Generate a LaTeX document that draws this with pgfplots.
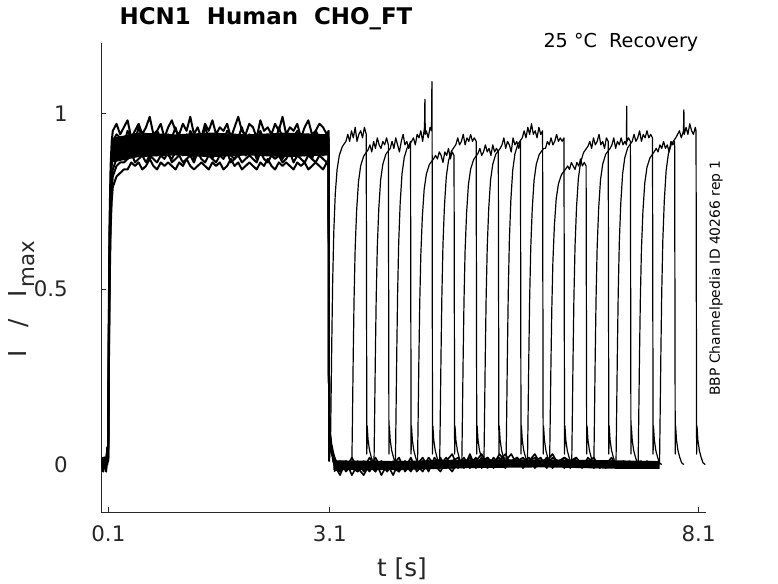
\documentclass[border=0pt]{standalone}
\usepackage{pgfplots}
\pgfplotsset{compat=1.18}
\usepackage{pgfplotstable}
\usepackage{fontspec}
\setmainfont{DejaVu Sans}
\definecolor{axgray}{HTML}{262626}
\pgfplotsset{
  band/.style={black, solid, mark=none, line join=round, line width=1.5pt},
  base/.style={black, solid, mark=none, line join=round, line width=1.2pt},
  sweep/.style={black, solid, mark=none, line join=round, line width=0.9pt},
  dense/.style={fill=black, draw=none, mark=none},
}

\pgfplotstableread{
t a b c d e f
0.01 0.01 -0.01 0.00 0.02 -0.01 0.01
0.03 -0.01 0.01 0.02 -0.01 0.00 -0.02
0.05 0.02 0.00 -0.01 0.01 0.02 0.00
0.07 -0.01 0.02 0.01 -0.02 0.00 0.01
0.085 0.01 0.04 0.00 0.05 0.01 0.02
0.097 0.02 0.02 0.02 0.02 0.01 0.01
0.105 0.40 0.35 0.30 0.28 0.25 0.22
0.115 0.68 0.62 0.58 0.55 0.52 0.48
0.13 0.85 0.80 0.76 0.73 0.70 0.67
0.145 0.92 0.88 0.85 0.81 0.78 0.75
0.16 0.95 0.92 0.90 0.84 0.82 0.79
0.21 0.97 0.94 0.92 0.87 0.85 0.82
0.26 0.94 0.93 0.91 0.88 0.86 0.83
0.31 0.96 0.91 0.89 0.88 0.86 0.84
0.36 0.98 0.95 0.93 0.87 0.87 0.84
0.41 0.93 0.93 0.91 0.90 0.89 0.86
0.46 0.95 0.92 0.90 0.89 0.86 0.85
0.51 0.97 0.96 0.92 0.88 0.87 0.86
0.56 0.94 0.93 0.94 0.91 0.88 0.84
0.61 0.96 0.91 0.90 0.89 0.86 0.85
0.66 0.99 0.94 0.91 0.87 0.88 0.87
0.71 0.94 0.92 0.89 0.90 0.87 0.85
0.76 0.95 0.95 0.93 0.88 0.86 0.84
0.81 0.97 0.93 0.92 0.89 0.88 0.86
0.86 0.93 0.90 0.90 0.92 0.87 0.85
0.91 0.96 0.94 0.91 0.88 0.89 0.86
0.96 0.98 0.93 0.93 0.87 0.86 0.85
1.01 0.95 0.96 0.89 0.89 0.87 0.84
1.06 0.94 0.92 0.92 0.90 0.88 0.86
1.11 0.97 0.93 0.91 0.88 0.86 0.85
1.16 0.95 0.91 0.94 0.89 0.87 0.87
1.21 0.99 0.95 0.90 0.91 0.88 0.85
1.26 0.94 0.93 0.91 0.87 0.86 0.84
1.31 0.96 0.94 0.92 0.89 0.89 0.85
1.36 0.93 0.92 0.89 0.88 0.87 0.86
1.41 0.97 0.96 0.93 0.90 0.86 0.85
1.46 0.95 0.93 0.91 0.89 0.88 0.84
1.51 0.98 0.91 0.90 0.87 0.87 0.86
1.56 0.94 0.94 0.92 0.91 0.86 0.85
1.61 0.96 0.93 0.91 0.88 0.88 0.86
1.66 0.95 0.92 0.93 0.89 0.87 0.84
1.71 0.97 0.95 0.89 0.90 0.89 0.85
1.76 0.93 0.94 0.91 0.88 0.86 0.87
1.81 0.96 0.91 0.92 0.87 0.87 0.85
1.86 0.99 0.93 0.90 0.89 0.88 0.86
1.91 0.95 0.96 0.93 0.91 0.86 0.84
1.96 0.94 0.92 0.91 0.88 0.87 0.85
2.01 0.97 0.94 0.89 0.89 0.88 0.86
2.06 0.96 0.93 0.92 0.90 0.87 0.85
2.11 0.93 0.91 0.94 0.87 0.86 0.84
2.16 0.98 0.95 0.90 0.89 0.89 0.86
2.21 0.95 0.92 0.91 0.88 0.87 0.85
2.26 0.96 0.93 0.92 0.91 0.86 0.87
2.31 0.94 0.94 0.90 0.89 0.88 0.85
2.36 0.97 0.91 0.93 0.88 0.87 0.84
2.41 0.95 0.96 0.91 0.90 0.88 0.86
2.46 0.99 0.93 0.89 0.87 0.86 0.85
2.51 0.94 0.92 0.92 0.89 0.87 0.86
2.56 0.96 0.94 0.91 0.88 0.89 0.85
2.61 0.95 0.93 0.93 0.90 0.86 0.84
2.66 0.97 0.95 0.90 0.89 0.88 0.86
2.71 0.93 0.91 0.92 0.91 0.87 0.85
2.76 0.96 0.93 0.91 0.88 0.86 0.86
2.81 0.98 0.94 0.89 0.89 0.88 0.84
2.86 0.94 0.92 0.93 0.87 0.87 0.85
2.91 0.95 0.95 0.90 0.90 0.86 0.86
2.96 0.97 0.93 0.92 0.89 0.88 0.85
3.01 0.96 0.92 0.91 0.88 0.87 0.84
3.06 0.94 0.94 0.90 0.90 0.86 0.86
3.085 0.95 0.93 0.91 0.89 0.87 0.85
3.092 0.02 0.03 0.02 0.01 0.02 0.03
3.098 0.10 0.09 0.08 0.09 0.10 0.08
3.12 0.05 0.05 0.04 0.06 0.05 0.04
3.15 0.02 0.01 0.02 0.03 0.01 0.02
3.18 0.00 -0.01 0.00 0.01 -0.01 0.00
3.22 -0.01 -0.02 -0.01 0.00 -0.02 -0.01
}\phaseone

\pgfplotstableread{
t p q r s u
3.16 0.01 -0.01 0.02 -0.02 0.00
3.24 -0.02 0.01 -0.01 0.00 -0.03
3.32 0.00 -0.02 0.01 -0.01 0.01
3.40 -0.01 0.00 -0.03 0.02 -0.01
3.48 0.01 -0.02 0.00 -0.01 -0.02
3.56 -0.02 0.01 -0.01 -0.03 0.00
3.64 0.00 -0.01 0.02 0.00 -0.02
3.72 -0.02 0.02 -0.01 -0.02 0.01
3.80 0.01 -0.01 0.00 0.01 -0.03
3.88 -0.01 0.00 -0.02 -0.01 0.00
3.96 0.00 -0.03 0.01 0.00 -0.01
4.04 -0.02 0.01 -0.01 0.02 -0.02
4.12 0.01 -0.01 0.00 -0.02 0.01
4.20 -0.01 0.02 -0.02 0.00 -0.01
4.28 0.00 -0.02 0.01 -0.01 0.00
4.36 0.02 0.00 -0.01 0.01 -0.02
4.44 -0.01 0.01 0.02 -0.02 0.01
4.52 0.01 -0.01 0.00 0.02 -0.01
4.60 0.00 0.02 -0.02 0.00 0.01
4.68 0.02 -0.01 0.01 -0.01 0.00
4.76 -0.01 0.01 0.03 0.01 -0.02
4.84 0.01 0.00 -0.01 0.02 0.01
4.92 0.00 0.02 0.01 -0.01 0.00
5.00 0.02 -0.01 0.00 0.03 0.01
5.08 0.00 0.01 0.02 -0.01 0.00
5.16 0.01 0.03 -0.01 0.01 0.02
5.24 -0.01 0.00 0.02 0.02 0.00
5.32 0.02 0.01 0.00 -0.01 0.01
5.40 0.00 0.02 0.03 0.01 0.00
5.48 0.01 -0.01 0.01 0.03 0.02
5.56 0.03 0.01 0.00 0.00 0.01
5.64 0.00 0.02 0.02 0.01 -0.01
5.72 0.01 0.00 -0.01 0.02 0.01
5.80 0.02 0.01 0.01 0.00 0.00
5.88 -0.01 0.03 0.02 0.01 0.01
5.96 0.01 0.00 0.00 0.02 0.00
6.04 0.00 0.02 0.01 -0.01 0.01
6.12 0.02 -0.01 0.03 0.01 0.00
6.20 0.01 0.01 0.00 0.00 0.01
6.28 -0.01 0.02 0.01 0.02 0.00
6.36 0.01 0.00 -0.01 0.01 0.01
6.44 0.02 0.01 0.02 0.00 0.00
6.52 0.00 -0.01 0.00 0.01 0.01
6.60 0.01 0.02 0.01 -0.01 0.00
6.68 -0.01 0.00 0.02 0.00 0.01
6.76 0.01 0.01 -0.01 0.01 0.00
6.84 0.00 -0.01 0.00 0.00 0.01
6.92 0.02 0.01 0.01 0.01 0.00
7.00 -0.01 0.00 0.00 0.00 0.00
7.08 0.01 -0.01 0.01 0.00 0.00
7.16 -0.01 0.01 0.00 0.00 0.00
7.24 0.00 -0.01 0.00 0.00 0.00
7.32 0.01 0.00 0.00 0.00 0.00
7.40 -0.01 0.01 0.00 0.00 0.00
7.48 0.00 0.00 0.00 0.00 0.00
7.56 0.01 0.00 0.00 0.00 0.00
}\basetab

\begin{document}
\begin{tikzpicture}
\useasboundingbox (0,0) rectangle (583.5pt,437.25pt);
\begin{axis}[
  at={(75.75pt,53.25pt)}, anchor=south west,
  width=453.75pt, height=351.75pt, scale only axis,
  xmin=0, xmax=8.2, ymin=-0.135, ymax=1.2,
  axis x line=bottom, axis y line=left,
  axis line style={-, draw=axgray, line width=0.5pt},
  xtick={0.1,3.1,8.1}, xticklabels={0.1,3.1,8.1},
  ytick={0,0.5,1}, yticklabels={0,0.5,1},
  tick align=inside, major tick length=3.75pt,
  tick style={draw=axgray, line width=0.5pt},
  ticklabel style={font=\fontsize{16}{19}\selectfont, text=axgray, inner sep=0pt},
  xticklabel style={anchor=north, yshift=-9.75pt},
  yticklabel style={anchor=east, xshift=-24.75pt},
]
% dense core of the overlaid noisy sweeps
\addplot[dense] coordinates {(0.16,0.93) (0.5,0.945) (1.0,0.94) (1.5,0.945) (2.0,0.94) (2.5,0.945) (3.08,0.94) (3.08,0.88) (2.5,0.875) (2.0,0.88) (1.5,0.875) (1.0,0.88) (0.5,0.875) (0.16,0.86)};
\addplot[dense] coordinates {(3.15,0.012) (4.0,0.01) (5.0,0.015) (6.0,0.015) (7.0,0.012) (7.57,0.01) (7.57,-0.012) (7.0,-0.012) (6.0,-0.008) (5.0,-0.01) (4.0,-0.016) (3.15,-0.016)};
% activation phase (0.1 - 3.1 s), overlaid sweeps
\addplot[band] table[x=t, y=a] {\phaseone};
\addplot[band] table[x=t, y=b] {\phaseone};
\addplot[band] table[x=t, y=c] {\phaseone};
\addplot[band] table[x=t, y=d] {\phaseone};
\addplot[band] table[x=t, y=e] {\phaseone};
\addplot[band] table[x=t, y=f] {\phaseone};
% baseline after deactivation
\addplot[base] table[x=t, y=p] {\basetab};
\addplot[base] table[x=t, y=q] {\basetab};
\addplot[base] table[x=t, y=r, restrict x to domain=3.1:7.0] {\basetab};
\addplot[base] table[x=t, y=s, restrict x to domain=3.1:6.4] {\basetab};
\addplot[base] table[x=t, y=u, restrict x to domain=3.1:5.5] {\basetab};
% recovery test pulses
\addplot[sweep] coordinates {(3.088,0.93) (3.094,0.02) (3.10,0.05) (3.11,0.05) (3.118,0.18) (3.128,0.35) (3.14,0.52) (3.155,0.66) (3.175,0.77) (3.20,0.84) (3.23,0.88) (3.27,0.905) (3.32,0.92) (3.345,0.94) (3.37,0.92) (3.395,0.95) (3.42,0.93) (3.445,0.96) (3.47,0.92) (3.495,0.94) (3.52,0.95) (3.545,0.93) (3.57,0.96) (3.595,0.94) (3.603,0.03) (3.608,0.11) (3.62,0.07) (3.64,0.04) (3.665,0.02) (3.69,0.005) (3.72,0)};
\addplot[sweep] coordinates {(3.40,0) (3.408,0.127) (3.418,0.299) (3.43,0.471) (3.445,0.615) (3.465,0.724) (3.49,0.805) (3.52,0.851) (3.56,0.878) (3.62,0.896) (3.645,0.91) (3.67,0.89) (3.695,0.92) (3.72,0.90) (3.745,0.93) (3.77,0.91) (3.795,0.90) (3.82,0.92) (3.845,0.91) (3.87,0.93) (3.895,0.91) (3.903,0.03) (3.908,0.11) (3.92,0.07) (3.94,0.04) (3.965,0.02) (3.99,0.005) (4.02,0)};
\addplot[sweep] coordinates {(3.70,0) (3.708,0.127) (3.718,0.30) (3.73,0.473) (3.745,0.619) (3.765,0.728) (3.79,0.81) (3.82,0.855) (3.86,0.883) (3.92,0.90) (3.945,0.92) (3.97,0.90) (3.995,0.93) (4.02,0.91) (4.045,0.89) (4.07,0.92) (4.095,0.94) (4.12,0.91) (4.145,0.92) (4.17,0.90) (4.195,0.92) (4.203,0.03) (4.208,0.11) (4.22,0.07) (4.24,0.04) (4.265,0.02) (4.29,0.005) (4.32,0)};
\addplot[sweep] coordinates {(3.99,0) (3.998,0.13) (4.008,0.307) (4.02,0.484) (4.035,0.632) (4.055,0.744) (4.08,0.828) (4.11,0.874) (4.15,0.902) (4.21,0.92) (4.235,0.93) (4.26,0.91) (4.285,0.94) (4.31,0.93) (4.335,0.95) (4.36,0.92) (4.385,0.96) (4.39,1.04) (4.395,0.94) (4.41,0.95) (4.435,0.93) (4.46,0.96) (4.48,0.95) (4.485,1.09) (4.488,0.94) (4.493,0.03) (4.498,0.11) (4.51,0.07) (4.53,0.04) (4.555,0.02) (4.58,0.005) (4.61,0)};
\addplot[sweep] coordinates {(4.29,0) (4.298,0.123) (4.308,0.29) (4.32,0.458) (4.335,0.598) (4.355,0.704) (4.38,0.783) (4.41,0.827) (4.45,0.854) (4.51,0.871) (4.535,0.88) (4.56,0.87) (4.585,0.89) (4.61,0.88) (4.635,0.86) (4.66,0.89) (4.685,0.88) (4.71,0.90) (4.735,0.87) (4.76,0.89) (4.785,0.88) (4.793,0.03) (4.798,0.11) (4.81,0.07) (4.83,0.04) (4.855,0.02) (4.88,0.005) (4.91,0)};
\addplot[sweep] coordinates {(4.59,0) (4.598,0.129) (4.608,0.304) (4.62,0.478) (4.635,0.626) (4.655,0.736) (4.68,0.819) (4.71,0.865) (4.75,0.892) (4.81,0.911) (4.835,0.93) (4.86,0.91) (4.885,0.92) (4.91,0.94) (4.935,0.91) (4.96,0.93) (4.985,0.92) (5.01,0.94) (5.035,0.92) (5.06,0.93) (5.085,0.92) (5.093,0.03) (5.098,0.11) (5.11,0.07) (5.13,0.04) (5.155,0.02) (5.18,0.005) (5.21,0)};
\addplot[sweep] coordinates {(4.89,0) (4.898,0.125) (4.908,0.295) (4.92,0.465) (4.935,0.609) (4.955,0.716) (4.98,0.797) (5.01,0.841) (5.05,0.868) (5.11,0.886) (5.135,0.90) (5.16,0.88) (5.185,0.89) (5.21,0.91) (5.235,0.89) (5.26,0.90) (5.285,0.88) (5.31,0.91) (5.335,0.89) (5.36,0.90) (5.385,0.89) (5.393,0.03) (5.398,0.11) (5.41,0.07) (5.43,0.04) (5.455,0.02) (5.48,0.005) (5.51,0)};
\addplot[sweep] coordinates {(5.19,0) (5.198,0.127) (5.208,0.30) (5.22,0.473) (5.235,0.619) (5.255,0.728) (5.28,0.81) (5.31,0.855) (5.35,0.883) (5.41,0.90) (5.435,0.91) (5.46,0.93) (5.485,0.90) (5.51,0.92) (5.535,0.91) (5.56,0.89) (5.585,0.93) (5.61,0.91) (5.635,0.92) (5.66,0.90) (5.685,0.92) (5.693,0.03) (5.698,0.11) (5.71,0.07) (5.73,0.04) (5.755,0.02) (5.78,0.005) (5.81,0)};
\addplot[sweep] coordinates {(5.49,0) (5.498,0.132) (5.508,0.31) (5.52,0.489) (5.535,0.639) (5.555,0.752) (5.58,0.837) (5.61,0.884) (5.65,0.912) (5.71,0.93) (5.735,0.95) (5.76,0.93) (5.785,0.96) (5.81,0.94) (5.835,0.97) (5.86,0.94) (5.885,0.95) (5.91,0.93) (5.935,0.96) (5.96,0.94) (5.985,0.95) (5.993,0.03) (5.998,0.11) (6.01,0.07) (6.03,0.04) (6.055,0.02) (6.08,0.005) (6.11,0)};
\addplot[sweep] coordinates {(5.78,0) (5.788,0.127) (5.798,0.30) (5.81,0.473) (5.825,0.619) (5.845,0.728) (5.87,0.81) (5.90,0.855) (5.94,0.883) (6.00,0.90) (6.025,0.90) (6.05,0.92) (6.075,0.91) (6.10,0.93) (6.125,0.91) (6.15,0.92) (6.175,0.94) (6.20,0.92) (6.225,0.93) (6.25,0.92) (6.275,0.93) (6.283,0.03) (6.288,0.11) (6.30,0.07) (6.32,0.04) (6.345,0.02) (6.37,0.005) (6.40,0)};
\addplot[sweep] coordinates {(6.08,0) (6.088,0.119) (6.098,0.28) (6.11,0.442) (6.125,0.578) (6.145,0.68) (6.17,0.757) (6.20,0.799) (6.24,0.825) (6.30,0.842) (6.325,0.85) (6.35,0.84) (6.375,0.86) (6.40,0.85) (6.425,0.84) (6.45,0.86) (6.475,0.85) (6.50,0.87) (6.525,0.85) (6.55,0.86) (6.575,0.85) (6.583,0.03) (6.588,0.11) (6.60,0.07) (6.62,0.04) (6.645,0.02) (6.67,0.005) (6.70,0)};
\addplot[sweep] coordinates {(6.38,0) (6.388,0.128) (6.398,0.302) (6.41,0.476) (6.425,0.622) (6.445,0.732) (6.47,0.814) (6.50,0.86) (6.54,0.888) (6.60,0.906) (6.625,0.92) (6.65,0.90) (6.675,0.93) (6.70,0.91) (6.725,0.92) (6.75,0.94) (6.775,0.91) (6.80,0.92) (6.825,0.90) (6.85,0.93) (6.875,0.92) (6.883,0.03) (6.888,0.11) (6.90,0.07) (6.92,0.04) (6.945,0.02) (6.97,0.005) (7.00,0)};
\addplot[sweep] coordinates {(6.68,0) (6.688,0.127) (6.698,0.30) (6.71,0.473) (6.725,0.619) (6.745,0.728) (6.77,0.81) (6.80,0.855) (6.84,0.883) (6.90,0.90) (6.925,0.91) (6.95,0.93) (6.975,0.90) (7.00,0.92) (7.025,0.91) (7.05,0.93) (7.075,0.91) (7.10,0.92) (7.122,0.91) (7.125,1.02) (7.128,0.92) (7.15,0.93) (7.175,0.92) (7.183,0.03) (7.188,0.11) (7.20,0.07) (7.22,0.04) (7.245,0.02) (7.27,0.005) (7.30,0)};
\addplot[sweep] coordinates {(6.98,0) (6.988,0.13) (6.998,0.307) (7.01,0.484) (7.025,0.632) (7.045,0.744) (7.07,0.828) (7.10,0.874) (7.14,0.902) (7.20,0.92) (7.225,0.94) (7.25,0.92) (7.275,0.93) (7.30,0.95) (7.325,0.92) (7.35,0.94) (7.375,0.93) (7.40,0.95) (7.425,0.93) (7.45,0.94) (7.475,0.93) (7.483,0.03) (7.488,0.11) (7.50,0.07) (7.52,0.04) (7.545,0.02) (7.57,0.005) (7.60,0)};
\addplot[sweep] coordinates {(7.28,0) (7.288,0.126) (7.298,0.297) (7.31,0.468) (7.325,0.612) (7.345,0.72) (7.37,0.801) (7.40,0.846) (7.44,0.873) (7.50,0.891) (7.525,0.90) (7.55,0.89) (7.575,0.91) (7.60,0.90) (7.625,0.92) (7.65,0.90) (7.675,0.91) (7.70,0.89) (7.725,0.92) (7.75,0.91) (7.775,0.92) (7.783,0.03) (7.788,0.11) (7.80,0.07) (7.82,0.04) (7.845,0.02) (7.87,0.005) (7.90,0)};
\addplot[sweep] coordinates {(7.57,0) (7.578,0.132) (7.588,0.31) (7.60,0.489) (7.615,0.639) (7.635,0.752) (7.66,0.837) (7.69,0.884) (7.73,0.912) (7.79,0.93) (7.815,0.94) (7.84,0.95) (7.865,0.93) (7.895,0.95) (7.90,1.01) (7.905,0.94) (7.93,0.96) (7.955,0.94) (7.98,0.97) (8.005,0.95) (8.03,0.94) (8.055,0.96) (8.065,0.95) (8.073,0.03) (8.078,0.11) (8.09,0.07) (8.11,0.04) (8.135,0.02) (8.16,0.005) (8.19,0)};
\end{axis}
% titles and labels
\node[anchor=base west, font=\fontsize{17.2}{20}\selectfont\bfseries] at (86.25pt,418.5pt) {HCN1~~Human~~CHO\_FT};
\node[anchor=base east, font=\fontsize{14.4}{17}\selectfont] at (527.25pt,401.75pt) {25 °C~~Recovery};
\node[rotate=90, font=\fontsize{10.4}{12}\selectfont] at (537pt,228.75pt) {BBP Channelpedia ID 40266 rep 1};
\node[anchor=base, font=\fontsize{18.5}{22}\selectfont, text=axgray] at (301.5pt,5.25pt) {t [s]};
\node[rotate=90, font=\fontsize{18.5}{22}\selectfont, text=axgray] at (16.5pt,213pt) {I\hspace{0.9em}/\hspace{0.9em}I\hspace{0.1em}\raisebox{-0.32em}{\fontsize{16}{18}\selectfont max}};
\end{tikzpicture}
\end{document}
